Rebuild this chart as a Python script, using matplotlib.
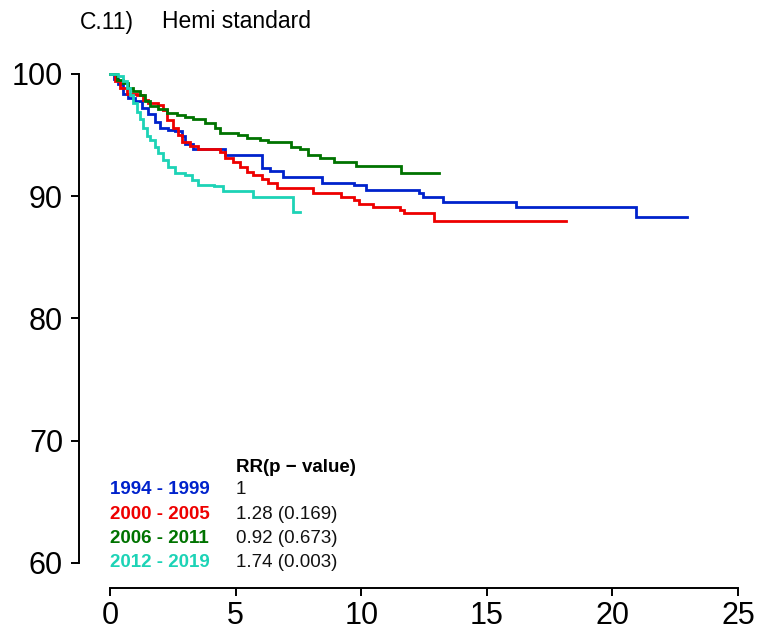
import matplotlib
matplotlib.use("Agg")
import matplotlib.pyplot as plt

plt.rcParams['font.family'] = ['Liberation Sans', 'DejaVu Sans']

# Kaplan-Meier style survival steps (years, % surviving)
t_1994 = [0, 0.15, 0.33, 0.53, 0.73, 1.0, 1.26, 1.52, 1.8, 2.0, 2.3, 2.6, 2.85, 3.0, 3.3, 4.58,
          6.04, 6.37, 6.9, 8.45, 9.7, 10.2, 12.3, 12.45, 13.25, 16.15, 20.95, 22.95]
s_1994 = [100, 99.6, 99.2, 98.4, 98.0, 97.8, 97.2, 96.7, 96.1, 95.6, 95.4, 95.3, 94.9, 94.3, 93.9, 93.4,
          92.3, 92.1, 91.6, 91.1, 90.9, 90.5, 90.3, 89.9, 89.5, 89.1, 88.3, 88.3]

t_2000 = [0, 0.2, 0.4, 0.66, 1.06, 1.33, 1.52, 1.92, 2.12, 2.26, 2.52, 2.72, 2.85, 3.18, 3.52, 4.38,
          4.58, 4.91, 5.18, 5.44, 5.7, 6.04, 6.3, 6.65, 8.1, 9.2, 9.7, 9.9, 10.45, 11.55, 11.7, 12.9, 18.15]
s_2000 = [100, 99.4, 98.85, 98.4, 98.3, 97.9, 97.6, 97.5, 97.05, 96.2, 95.6, 95.0, 94.4, 94.1, 93.9, 93.6,
          93.1, 92.8, 92.4, 92.0, 91.7, 91.4, 91.05, 90.7, 90.3, 89.9, 89.7, 89.4, 89.1, 88.9, 88.6, 88.0, 88.0]

t_2006 = [0, 0.27, 0.53, 0.73, 0.93, 1.19, 1.39, 1.59, 1.92, 2.26, 2.65, 3.0, 3.3, 3.78, 4.18, 4.38,
          5.1, 5.44, 5.97, 6.3, 6.8, 7.2, 7.55, 7.9, 8.35, 8.9, 9.8, 11.6, 13.1]
s_2006 = [100, 99.5, 99.3, 98.85, 98.6, 98.3, 97.8, 97.35, 97.1, 96.8, 96.65, 96.5, 96.3, 96.0, 95.6, 95.2,
          95.0, 94.75, 94.6, 94.46, 94.4, 94.0, 93.9, 93.4, 93.1, 92.8, 92.5, 91.9, 91.9]

t_2012 = [0, 0.33, 0.53, 0.66, 0.8, 0.93, 1.06, 1.19, 1.33, 1.46, 1.59, 1.79, 1.92, 2.12, 2.32, 2.59,
          2.99, 3.25, 3.52, 4.15, 4.51, 5.7, 7.3, 7.55]
s_2012 = [100, 99.8, 99.4, 98.85, 98.3, 97.6, 96.9, 96.3, 95.6, 94.9, 94.6, 94.05, 93.5, 92.96, 92.4, 91.9,
          91.7, 91.3, 90.9, 90.8, 90.45, 89.9, 88.7, 88.7]

periods = ['1994 - 1999', '2000 - 2005', '2006 - 2011', '2012 - 2019']
rr_text = ['1', '1.28 (0.169)', '0.92 (0.673)', '1.74 (0.003)']
colors = ['#0022cc', '#ee0000', '#007300', '#1dd3b6']
x_ticks = [0, 5, 10, 15, 20, 25]
y_ticks = [60, 70, 80, 90, 100]

W, H = 761, 632
fig = plt.figure(figsize=(W / 100, H / 100), dpi=100)

# plot region in pixels: left edge at the y-axis line, bottom at the x-axis line
px_left, px_right, px_top, px_bottom = 79, 750, 60, 588
ax = fig.add_axes([px_left / W, 1 - px_bottom / H,
                   (px_right - px_left) / W, (px_bottom - px_top) / H])

# data-to-pixel scale: x 0..25 spans px 110..738, y 60..100 spans px 563..74
x_per_px = 25 / (738 - 110)
y_per_px = 40 / (563 - 74)
ax.set_xlim(0 - (110 - px_left) * x_per_px, 0 + (px_right - 110) * x_per_px)
ax.set_ylim(100 - (px_bottom - 74) * y_per_px, 100 + (74 - px_top) * y_per_px)

for t, s, c in zip([t_1994, t_2000, t_2006, t_2012],
                   [s_1994, s_2000, s_2006, s_2012], colors):
    ax.plot(t, s, drawstyle='steps-post', color=c, lw=2.0, solid_joinstyle='miter')

for sp in ['top', 'right']:
    ax.spines[sp].set_visible(False)
ax.spines['left'].set_bounds(60, 100)
ax.spines['bottom'].set_bounds(0, 25)
for sp in ['left', 'bottom']:
    ax.spines[sp].set_linewidth(1.4)

ax.set_xticks(x_ticks)
ax.set_yticks(y_ticks)
ax.tick_params(axis='both', length=5.5, width=1.4, labelsize=22, direction='out')
ax.tick_params(axis='y', pad=6)
ax.tick_params(axis='x', pad=4)

# RR table in the lower left
fs = 13.5
ax.text(5, 67.8, 'RR(p \u2212 value)', fontsize=fs, fontweight='bold', ha='left', va='center')
for i, (lab, rr, c) in enumerate(zip(periods, rr_text, colors)):
    yy = 66 - 2 * i
    ax.text(0, yy, lab, color=c, fontsize=fs, fontweight='bold', ha='left', va='center')
    ax.text(5, yy, rr, color='#111111', fontsize=fs, ha='left', va='center')

fig.text(80 / W, 1 - 22 / H, 'C.11)', fontsize=16.5, ha='left', va='center')
fig.text(162 / W, 1 - 22 / H, 'Hemi standard', fontsize=16.5, ha='left', va='center')

fig.savefig('out.png', dpi=100)
